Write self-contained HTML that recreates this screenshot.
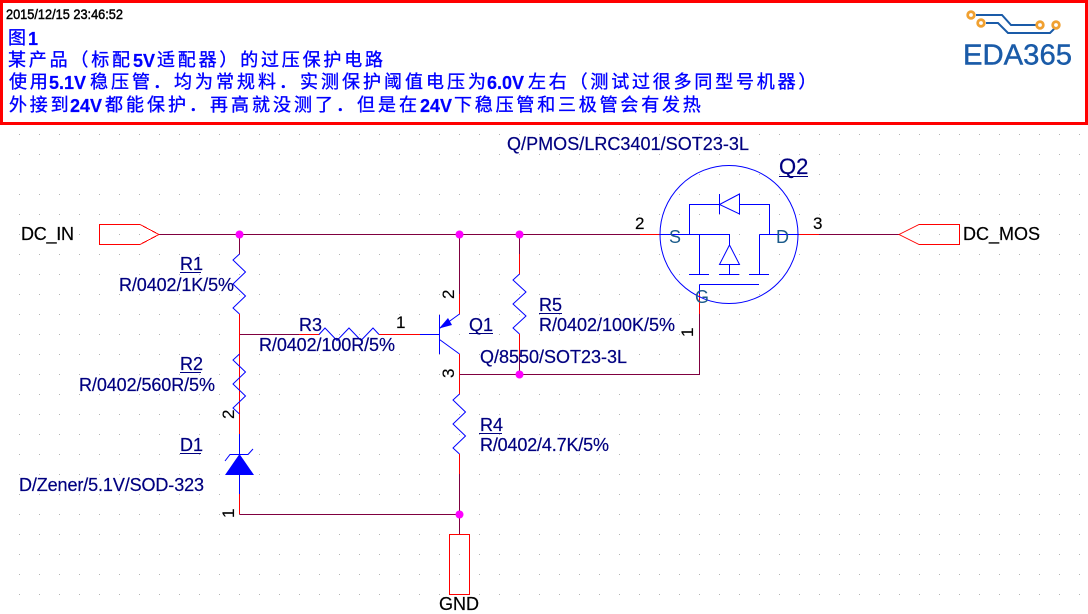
<!DOCTYPE html>
<html lang="zh"><head><meta charset="utf-8"><style>
html,body{margin:0;padding:0;background:#fff;width:1088px;height:614px;overflow:hidden}
svg{display:block}
text{font-family:"Liberation Sans",sans-serif;font-size:18px}
.n{fill:#000080;stroke:#000080;stroke-width:.2}.k{fill:#000;stroke:#000;stroke-width:.2}.p{font-size:17px;fill:#000;stroke:#000;stroke-width:.15}
.h{fill:#0000ff;font-size:18px;font-family:"Liberation Sans","WenQuanYi Zen Hei","Noto Sans CJK SC",sans-serif}
.h .c{letter-spacing:2.8px;stroke:#0000ff;stroke-width:.35}.h .m{letter-spacing:3px;stroke:#0000ff;stroke-width:.35}.h .l{font-weight:bold;stroke:#0000ff;stroke-width:.2}
.w{fill:none;stroke:#800040;stroke-width:1}
.r{fill:none;stroke:#ff0000;stroke-width:1}
.b{fill:none;stroke:#0000ff;stroke-width:1}
.u{stroke:#000080;stroke-width:1}
</style></head><body>
<svg width="1088" height="614" viewBox="0 0 1088 614" xmlns="http://www.w3.org/2000/svg">
<defs><pattern id="g" x="19" y="14" width="20" height="20" patternUnits="userSpaceOnUse"><rect width="1" height="1" fill="#b4b4b4"/></pattern></defs>
<rect width="1088" height="614" fill="#fff"/>
<rect y="126" width="1088" height="488" fill="url(#g)"/>

<!-- header -->
<rect x="1.5" y="1.5" width="1085" height="122" fill="#fff" stroke="#ff0000" stroke-width="3"/>
<text x="6" y="19" style="font-size:13.500px;stroke:#000;stroke-width:.45" fill="#000" textLength="117" lengthAdjust="spacingAndGlyphs">2015/12/15 23:46:52</text>
<text class="h" y="44"><tspan class="c" x="8">图</tspan><tspan class="l" x="28" y="45">1</tspan></text>
<text class="h" y="66"><tspan class="c" x="8">某产品（标配</tspan><tspan class="l" x="133" y="67">5V</tspan><tspan class="c" x="157" y="66">适配器）的过压保护电路</tspan></text>
<text class="h" y="88"><tspan class="c" x="9">使用</tspan><tspan class="l" x="49" y="89">5.1V</tspan><tspan class="m" x="90" y="88">稳压管．均为常规料．实测保护阈值电压为</tspan><tspan class="l" x="487" y="89">6.0V</tspan><tspan class="c" x="528" y="88">左右（测试过很多同型号机器）</tspan></text>
<text class="h" y="111"><tspan class="c" x="9">外接到</tspan><tspan class="l" x="70" y="112">24V</tspan><tspan class="m" x="105" y="111">都能保护．再高就没测了．但是在</tspan><tspan class="l" x="420" y="112">24V</tspan><tspan class="c" x="454" y="111">下稳压管和三极管会有发热</tspan></text>

<!-- logo -->
<g fill="none" stroke="#1a5ba8" stroke-width="2">
<path d="M976 15H1002L1011 25H1036"/><path d="M986 23H998L1008 33H1050L1056 27"/></g>
<g fill="#fff" stroke="#f0a030" stroke-width="2.800">
<circle cx="971" cy="15" r="3.300"/><circle cx="981" cy="23" r="3.300"/><circle cx="1040" cy="25" r="3.300"/><circle cx="1056" cy="25" r="3.300"/></g>
<text x="963" y="64.500" style="font-size:28.500px;stroke:#1a5ba8;stroke-width:.4" fill="#1a5ba8" textLength="109" lengthAdjust="spacingAndGlyphs">EDA365</text>

<g shape-rendering="crispEdges">
<!-- wires -->
<path class="w" d="M159 234.500H640M819 234.500H899M239.500 234.500V254M459.500 234.500V294M519.500 234.500V254M239.500 334.500H299M459.500 374.500H699.500V314M519.500 354V374M239.500 514.500H459.500M459.500 474V534"/>
<path class="r" d="M640 234.500H660M799 234.500H819M239.500 254V254M239.500 314V414M239.500 414V434M239.500 494V514M299 334.500H319M379 334.500H420M459.500 294V314M459.500 354V394M459.500 454V474M519.500 254V274M519.500 334V354M699.500 294V314"/>
<!-- ports -->
<path class="r" d="M99.500 224.500H140L159 234.500L140 244.500H99.500Z"/>
<path class="r" d="M899 234.500L919 224.500H959.500V244.500H919Z"/>
<rect class="r" x="449.500" y="534.500" width="20" height="60"/>
</g>

<!-- resistors -->
<g>
<path class="b" d="M239.500 254L233 260L245.500 272L233 284L245.500 296L233 308L239.500 314"/>
<path class="b" d="M239.500 354L233 360L245.500 372L233 384L245.500 396L233 408L239.500 414"/>
<path class="b" d="M459.500 394L453 400L465.500 412L453 424L465.500 436L453 448L459.500 454"/>
<path class="b" d="M519.500 274L513 280L526 292L513 304L526 316L513 328L519.500 334"/>
<path class="b" d="M319 334.500L325 328L337 340.500L349 328L361 340.500L373 328L379 334.500"/>
</g>

<!-- Q1 -->
<path class="b" shape-rendering="crispEdges" d="M420 334.500H439.500M439.500 315V354"/>
<path class="b" d="M459.500 314L439.500 328.500M439.500 339.500L459.500 354"/>
<path d="M439 328.500L448 318L452 325Z" fill="#0000ff"/>

<!-- D1 -->
<path class="b" shape-rendering="crispEdges" d="M239.500 434V494"/>
<path d="M239.500 454L254 475H225Z" fill="#0000ff"/>
<path class="b" d="M225 461L230 454.500H248L253 449"/>

<!-- Q2 -->
<circle class="b" cx="729" cy="234.500" r="69"/>
<g shape-rendering="crispEdges">
<path class="b" d="M660 234.500H729.500V245M689.500 234.500V204.500H719.500M739.500 204.500H769.500V234.500M759.500 234.500H799M699.500 234.500V274.500M689 274.500H709M719 274.500H739M749 274.500H769M759.500 234.500V274.500M729.500 264V274.500M719.500 194V214M699.500 284.500H759M699.500 284.500V294"/>
</g>
<path class="b" d="M739.500 194L719.500 204.500L739.500 214ZM729.500 245L719.500 264.500H739.500Z"/>

<!-- junctions -->
<g fill="#ff00ff">
<circle cx="239.500" cy="234.500" r="4"/><circle cx="459.500" cy="234.500" r="4"/><circle cx="519.500" cy="234.500" r="4"/><circle cx="519.500" cy="374.500" r="4"/><circle cx="459.500" cy="514.500" r="4"/>
</g>

<!-- labels -->
<text class="k" x="21" y="240" textLength="53">DC_IN</text>
<text class="k" x="963" y="240" textLength="77">DC_MOS</text>
<text class="k" x="439" y="610" textLength="40">GND</text>

<text class="n" x="180" y="270">R1</text><line class="u" x1="180" x2="201" y1="272.500" y2="272.500"/>
<text class="n" x="119" y="291" textLength="115">R/0402/1K/5%</text>
<text class="n" x="180" y="370">R2</text><line class="u" x1="180" x2="201" y1="372.500" y2="372.500"/>
<text class="n" x="79" y="391" textLength="136">R/0402/560R/5%</text>
<text class="n" x="299" y="331">R3</text>
<text class="n" x="259" y="351" textLength="136">R/0402/100R/5%</text>
<text class="n" x="480" y="431">R4</text><line class="u" x1="479" x2="502" y1="433.500" y2="433.500"/>
<text class="n" x="480" y="451" textLength="129">R/0402/4.7K/5%</text>
<text class="n" x="539" y="311">R5</text><line class="u" x1="539" x2="562" y1="313.500" y2="313.500"/>
<text class="n" x="539" y="331" textLength="136">R/0402/100K/5%</text>
<text class="n" x="180" y="451">D1</text><line class="u" x1="180" x2="201" y1="453.500" y2="453.500"/>
<text class="n" x="19" y="491" textLength="185">D/Zener/5.1V/SOD-323</text>
<text class="n" x="469" y="331">Q1</text><line class="u" x1="469" x2="493" y1="333.500" y2="333.500"/>
<text class="n" x="480" y="363" textLength="147">Q/8550/SOT23-3L</text>
<text class="n" x="507" y="150" textLength="242">Q/PMOS/LRC3401/SOT23-3L</text>
<text class="n" x="779" y="174" style="font-size:22px">Q2</text><line class="u" x1="779" x2="808" y1="176.500" y2="176.500"/>

<text x="669" y="243" fill="#1a5a8a">S</text>
<text x="776" y="243" fill="#1a5a8a">D</text>
<text x="695" y="303" fill="#1a5a8a">G</text>

<text class="p" x="635" y="229">2</text>
<text class="p" x="813" y="229">3</text>
<text class="p" x="396" y="328">1</text>
<text class="p" transform="translate(454,299) rotate(-90)">2</text>
<text class="p" transform="translate(454,378) rotate(-90)">3</text>
<text class="p" transform="translate(234,419) rotate(-90)">2</text>
<text class="p" transform="translate(234,518) rotate(-90)">1</text>
<text class="p" transform="translate(693,337) rotate(-90)">1</text>
</svg>
</body></html>
